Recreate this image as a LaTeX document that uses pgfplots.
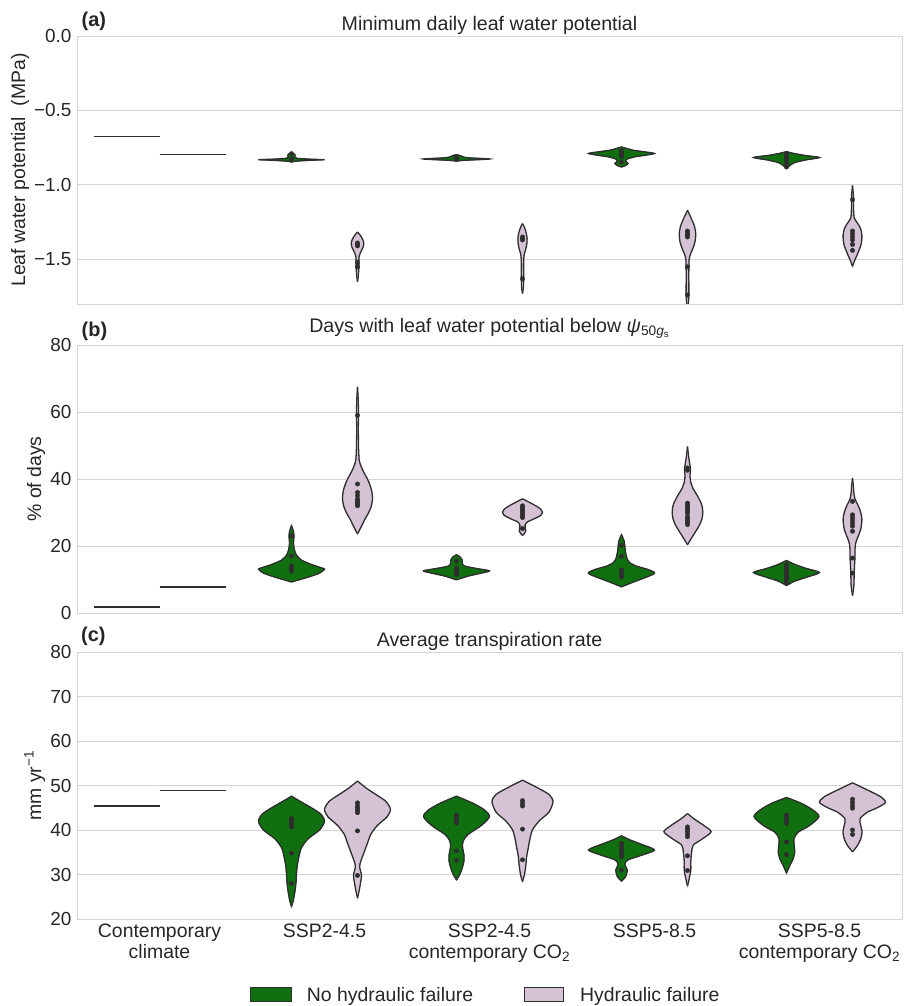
\documentclass[border=0pt]{standalone}
\usepackage{pgfplots}
\usepackage{pgfplotstable}
\pgfplotsset{compat=1.18}
\usepackage{fontspec}
\setmainfont{Liberation Sans}
\definecolor{vgreen}{HTML}{107010}
\definecolor{vpink}{HTML}{D5C2D5}
\definecolor{vedge}{HTML}{2E2E2E}
\definecolor{txt}{HTML}{262626}
\definecolor{gridc}{HTML}{D4D4D4}
\newcommand{\tf}{\fontsize{19.5}{20.6}\selectfont}
\newcommand{\tkf}{\fontsize{19}{20}\selectfont}

% ---------- panel (a): minimum daily leaf water potential ----------
\pgfplotstableread[row sep=\\]{y w\\ -0.845 0\\ -0.840 0.04\\ -0.835 0.11\\ -0.831 0.20\\ -0.827 0.11\\ -0.822 0.035\\ -0.814 0.02\\ -0.803 0.022\\ -0.795 0.02\\ -0.789 0.01\\ -0.786 0\\}\aGone
\pgfplotstableread[row sep=\\]{y w\\ -1.650 0\\ -1.620 0.004\\ -1.580 0.007\\ -1.550 0.009\\ -1.520 0.008\\ -1.480 0.010\\ -1.450 0.020\\ -1.420 0.033\\ -1.395 0.038\\ -1.370 0.033\\ -1.340 0.018\\ -1.317 0\\}\aPone
\pgfplotstableread[row sep=\\]{y w\\ -0.840 0\\ -0.835 0.05\\ -0.830 0.15\\ -0.826 0.20\\ -0.822 0.14\\ -0.817 0.06\\ -0.810 0.035\\ -0.803 0.022\\ -0.797 0\\}\aGtwo
\pgfplotstableread[row sep=\\]{y w\\ -1.730 0\\ -1.680 0.006\\ -1.600 0.007\\ -1.520 0.007\\ -1.470 0.010\\ -1.430 0.020\\ -1.390 0.027\\ -1.360 0.028\\ -1.320 0.022\\ -1.280 0.010\\ -1.260 0\\}\aPtwo
\pgfplotstableread[row sep=\\]{y w\\ -0.880 0\\ -0.870 0.025\\ -0.856 0.040\\ -0.842 0.026\\ -0.826 0.035\\ -0.812 0.08\\ -0.800 0.15\\ -0.789 0.20\\ -0.778 0.14\\ -0.767 0.07\\ -0.755 0.03\\ -0.745 0\\}\aGthree
\pgfplotstableread[row sep=\\]{y w\\ -1.850 0\\ -1.750 0.008\\ -1.600 0.008\\ -1.500 0.010\\ -1.460 0.020\\ -1.420 0.035\\ -1.380 0.046\\ -1.330 0.050\\ -1.280 0.043\\ -1.230 0.025\\ -1.190 0.008\\ -1.171 0\\}\aPthree
\pgfplotstableread[row sep=\\]{y w\\ -0.890 0\\ -0.870 0.02\\ -0.850 0.05\\ -0.832 0.12\\ -0.816 0.20\\ -0.802 0.11\\ -0.788 0.04\\ -0.776 0\\}\aGfour
\pgfplotstableread[row sep=\\]{y w\\ -1.548 0\\ -1.510 0.012\\ -1.460 0.032\\ -1.400 0.052\\ -1.340 0.057\\ -1.290 0.048\\ -1.250 0.026\\ -1.220 0.010\\ -1.150 0.006\\ -1.080 0.006\\ -1.003 0\\}\aPfour

% ---------- panel (b): days below psi50 ----------
\pgfplotstableread[row sep=\\]{y w\\ 9.25 0\\ 10.7 0.10\\ 11.9 0.17\\ 13.1 0.20\\ 13.5 0.18\\ 14.5 0.12\\ 15.8 0.06\\ 17.3 0.03\\ 18.8 0.018\\ 20.8 0.012\\ 22.8 0.015\\ 24.3 0.012\\ 26.1 0\\}\bGone
\pgfplotstableread[row sep=\\]{y w\\ 23.6 0\\ 25.0 0.015\\ 26.5 0.03\\ 28.0 0.045\\ 30.0 0.068\\ 32.0 0.084\\ 34.3 0.091\\ 36.5 0.086\\ 38.8 0.071\\ 40.5 0.055\\ 42.0 0.038\\ 44.0 0.02\\ 45.8 0.01\\ 50.0 0.006\\ 55.0 0.005\\ 60.0 0.006\\ 64.0 0.004\\ 67.5 0\\}\bPone
\pgfplotstableread[row sep=\\]{y w\\ 9.9 0\\ 11.0 0.07\\ 12.0 0.16\\ 12.6 0.20\\ 13.3 0.12\\ 14.0 0.05\\ 14.8 0.035\\ 15.8 0.035\\ 16.8 0.02\\ 17.4 0\\}\bGtwo
\pgfplotstableread[row sep=\\]{y w\\ 23.1 0\\ 23.8 0.012\\ 24.5 0.02\\ 25.3 0.016\\ 26.3 0.016\\ 27.2 0.03\\ 28.2 0.075\\ 29.2 0.112\\ 30.0 0.121\\ 31.0 0.11\\ 32.0 0.08\\ 33.2 0.035\\ 34.1 0\\}\bPtwo
\pgfplotstableread[row sep=\\]{y w\\ 7.8 0\\ 9.0 0.06\\ 10.5 0.14\\ 11.5 0.19\\ 12.1 0.20\\ 13.0 0.16\\ 14.0 0.09\\ 15.0 0.05\\ 16.0 0.035\\ 18.0 0.025\\ 20.0 0.02\\ 21.5 0.016\\ 23.4 0\\}\bGthree
\pgfplotstableread[row sep=\\]{y w\\ 20.4 0\\ 22.0 0.02\\ 24.0 0.045\\ 26.0 0.07\\ 28.0 0.087\\ 30.3 0.093\\ 32.5 0.085\\ 35.0 0.06\\ 37.0 0.035\\ 39.0 0.02\\ 41.0 0.015\\ 43.0 0.018\\ 45.0 0.012\\ 47.0 0.006\\ 49.7 0\\}\bPthree
\pgfplotstableread[row sep=\\]{y w\\ 8.2 0\\ 9.5 0.05\\ 10.8 0.13\\ 12.1 0.20\\ 13.3 0.12\\ 14.5 0.05\\ 15.7 0\\}\bGfour
\pgfplotstableread[row sep=\\]{y w\\ 5.2 0\\ 8.0 0.008\\ 11.0 0.01\\ 14.0 0.012\\ 16.5 0.015\\ 19.0 0.015\\ 21.0 0.02\\ 23.0 0.035\\ 25.0 0.05\\ 27.9 0.057\\ 30.0 0.05\\ 32.0 0.035\\ 34.0 0.015\\ 36.0 0.008\\ 38.0 0.005\\ 40.3 0\\}\bPfour

% ---------- panel (c): average transpiration rate ----------
\pgfplotstableread[row sep=\\]{y w\\ 22.8 0\\ 24.0 0.01\\ 26.0 0.02\\ 28.0 0.027\\ 30.0 0.03\\ 32.0 0.035\\ 34.0 0.045\\ 36.0 0.06\\ 38.0 0.10\\ 40.0 0.17\\ 41.9 0.20\\ 43.5 0.18\\ 45.0 0.12\\ 46.5 0.05\\ 47.6 0\\}\cGone
\pgfplotstableread[row sep=\\]{y w\\ 24.7 0\\ 26.0 0.008\\ 28.0 0.018\\ 29.8 0.024\\ 31.7 0.013\\ 33.0 0.02\\ 35.0 0.04\\ 37.0 0.06\\ 39.0 0.08\\ 41.0 0.12\\ 43.0 0.18\\ 44.7 0.20\\ 46.5 0.17\\ 48.0 0.11\\ 49.5 0.05\\ 51.0 0\\}\cPone
\pgfplotstableread[row sep=\\]{y w\\ 28.8 0\\ 30.0 0.02\\ 31.5 0.035\\ 33.0 0.045\\ 34.5 0.045\\ 36.0 0.037\\ 37.5 0.04\\ 39.0 0.07\\ 41.0 0.15\\ 43.0 0.20\\ 44.5 0.17\\ 46.0 0.10\\ 47.6 0\\}\cGtwo
\pgfplotstableread[row sep=\\]{y w\\ 28.4 0\\ 30.0 0.012\\ 32.0 0.02\\ 34.0 0.025\\ 36.0 0.035\\ 38.0 0.045\\ 40.0 0.06\\ 42.0 0.10\\ 44.0 0.16\\ 46.4 0.185\\ 48.0 0.16\\ 49.5 0.09\\ 51.2 0\\}\cPtwo
\pgfplotstableread[row sep=\\]{y w\\ 28.5 0\\ 29.5 0.025\\ 31.0 0.035\\ 32.3 0.02\\ 33.3 0.04\\ 34.3 0.12\\ 35.5 0.20\\ 36.8 0.12\\ 37.8 0.05\\ 38.7 0\\}\cGthree
\pgfplotstableread[row sep=\\]{y w\\ 27.4 0\\ 29.0 0.01\\ 31.0 0.02\\ 33.0 0.02\\ 35.0 0.025\\ 36.6 0.035\\ 38.0 0.09\\ 39.6 0.143\\ 41.0 0.10\\ 42.5 0.04\\ 43.7 0\\}\cPthree
\pgfplotstableread[row sep=\\]{y w\\ 30.3 0\\ 32.0 0.02\\ 33.5 0.04\\ 35.0 0.05\\ 36.5 0.047\\ 38.0 0.045\\ 39.5 0.07\\ 41.0 0.14\\ 43.0 0.197\\ 44.5 0.16\\ 46.0 0.09\\ 47.3 0\\}\cGfour
\pgfplotstableread[row sep=\\]{y w\\ 35.1 0\\ 36.5 0.03\\ 38.0 0.05\\ 39.6 0.058\\ 41.0 0.05\\ 42.5 0.045\\ 44.0 0.09\\ 45.0 0.15\\ 46.2 0.20\\ 47.5 0.17\\ 49.0 0.09\\ 50.6 0\\}\cPfour

% violin: #1 centre, #2 fill colour, #3 table (y, half width); two filled halves + outline
\newcommand{\violin}[3]{%
  \addplot[fill=#2, draw=#2, line width=0.6bp, smooth, tension=0.45, forget plot] table[x expr=#1+\thisrow{w}, y=y]{#3} -- cycle;
  \addplot[fill=#2, draw=#2, line width=0.6bp, smooth, tension=0.45, forget plot] table[x expr=#1-\thisrow{w}, y=y]{#3} -- cycle;
  \addplot[vedge, line width=1.3bp, smooth, tension=0.45, forget plot] table[x expr=#1+\thisrow{w}, y=y]{#3};
  \addplot[vedge, line width=1.3bp, smooth, tension=0.45, forget plot] table[x expr=#1-\thisrow{w}, y=y]{#3};
}

\pgfplotsset{
  vstyle/.style={
    scale only axis, width=825bp, anchor=south west,
    xmin=-0.5, xmax=4.5, xtick=\empty,
    axis line style={gridc, line width=0.9bp},
    ymajorgrids, grid style={gridc, line width=0.9bp},
    major tick length=0pt,
    yticklabel style={font=\tkf, text=txt, inner sep=0pt, xshift=-5.3bp},
  },
  cline/.style={vedge, line width=1.3bp, forget plot},
  dots/.style={only marks, mark=*, mark size=2.2bp, color=vedge, forget plot},
}

\begin{document}
\begin{tikzpicture}

% ================= (a) =================
\begin{axis}[vstyle, at={(77bp,702bp)}, height=268bp,
  ymin=-1.8, ymax=0, ytick={-1.5,-1,-0.5,0}, yticklabels={−1.5,−1.0,−0.5,0.0}]
\addplot[cline] coordinates {(-0.4,-0.675) (0,-0.675)};
\addplot[cline] coordinates {(0,-0.795) (0.4,-0.795)};
\violin{0.8}{vgreen}{\aGone}
\violin{1.2}{vpink}{\aPone}
\violin{1.8}{vgreen}{\aGtwo}
\violin{2.2}{vpink}{\aPtwo}
\violin{2.8}{vgreen}{\aGthree}
\violin{3.2}{vpink}{\aPthree}
\violin{3.8}{vgreen}{\aGfour}
\violin{4.2}{vpink}{\aPfour}
\addplot[dots] coordinates {
 (0.8,-0.79) (0.8,-0.825) (0.8,-0.83) (0.8,-0.835)
 (1.2,-1.39) (1.2,-1.40) (1.2,-1.41) (1.2,-1.52) (1.2,-1.55)
 (1.8,-0.81) (1.8,-0.82) (1.8,-0.83)
 (2.2,-1.35) (2.2,-1.36) (2.2,-1.37) (2.2,-1.63)
 (2.8,-0.77) (2.8,-0.78) (2.8,-0.79) (2.8,-0.80) (2.8,-0.81) (2.8,-0.846)
 (3.2,-1.31) (3.2,-1.32) (3.2,-1.33) (3.2,-1.34) (3.2,-1.35) (3.2,-1.55) (3.2,-1.74)
 (3.8,-0.79) (3.8,-0.80) (3.8,-0.81) (3.8,-0.82) (3.8,-0.84) (3.8,-0.86) (3.8,-0.88)
 (4.2,-1.10) (4.2,-1.31) (4.2,-1.33) (4.2,-1.35) (4.2,-1.37) (4.2,-1.40) (4.2,-1.44)};
\end{axis}

% ================= (b) =================
\begin{axis}[vstyle, at={(77bp,393bp)}, height=268bp,
  ymin=0, ymax=80, ytick={0,20,40,60,80}, yticklabels={0,20,40,60,80}]
\addplot[cline] coordinates {(-0.4,1.8) (0,1.8)};
\addplot[cline] coordinates {(0,7.8) (0.4,7.8)};
\violin{0.8}{vgreen}{\bGone}
\violin{1.2}{vpink}{\bPone}
\violin{1.8}{vgreen}{\bGtwo}
\violin{2.2}{vpink}{\bPtwo}
\violin{2.8}{vgreen}{\bGthree}
\violin{3.2}{vpink}{\bPthree}
\violin{3.8}{vgreen}{\bGfour}
\violin{4.2}{vpink}{\bPfour}
\addplot[dots] coordinates {
 (0.8,12.5) (0.8,13) (0.8,13.5) (0.8,14) (0.8,17) (0.8,23)
 (1.2,32) (1.2,32.5) (1.2,33) (1.2,33.5) (1.2,34) (1.2,35) (1.2,36) (1.2,38.5) (1.2,59)
 (1.8,11.5) (1.8,12) (1.8,12.5) (1.8,13) (1.8,13.5) (1.8,15.5)
 (2.2,28.5) (2.2,29) (2.2,29.5) (2.2,30) (2.2,30.5) (2.2,31) (2.2,31.5) (2.2,32) (2.2,25.2)
 (2.8,10.7) (2.8,11.2) (2.8,11.7) (2.8,12.2) (2.8,12.9) (2.8,16.9) (2.8,20.2)
 (3.2,26.4) (3.2,27) (3.2,27.6) (3.2,28.2) (3.2,28.8) (3.2,29.8) (3.2,30.4) (3.2,31) (3.2,31.6) (3.2,32.2) (3.2,32.8) (3.2,42.6) (3.2,43.3)
 (3.8,9) (3.8,9.6) (3.8,10.2) (3.8,10.8) (3.8,11.4) (3.8,12) (3.8,12.6) (3.8,13.2) (3.8,13.8) (3.8,14.4)
 (4.2,33.3) (4.2,29.3) (4.2,28.5) (4.2,27.7) (4.2,26.8) (4.2,25.9) (4.2,24.4) (4.2,16.4) (4.2,11.9)};
\end{axis}

% ================= (c) =================
\begin{axis}[vstyle, at={(77bp,87bp)}, height=267bp,
  ymin=20, ymax=80, ytick={20,30,...,80}, yticklabels={20,30,40,50,60,70,80},
  xtick={0,1,2,3,4},
  xticklabels={{Contemporary\\climate}, {SSP2-4.5}, {SSP2-4.5\\contemporary CO\textsubscript{2}}, {SSP5-8.5}, {SSP5-8.5\\contemporary CO\textsubscript{2}}},
  xticklabel style={font=\tf, text=txt, align=center, inner sep=0pt, yshift=-5bp}]
\addplot[cline] coordinates {(-0.4,45.4) (0,45.4)};
\addplot[cline] coordinates {(0,48.9) (0.4,48.9)};
\violin{0.8}{vgreen}{\cGone}
\violin{1.2}{vpink}{\cPone}
\violin{1.8}{vgreen}{\cGtwo}
\violin{2.2}{vpink}{\cPtwo}
\violin{2.8}{vgreen}{\cGthree}
\violin{3.2}{vpink}{\cPthree}
\violin{3.8}{vgreen}{\cGfour}
\violin{4.2}{vpink}{\cPfour}
\addplot[dots] coordinates {
 (0.8,40.7) (0.8,41.2) (0.8,41.7) (0.8,42.2) (0.8,42.6) (0.8,34.8) (0.8,28.0)
 (1.2,43.9) (1.2,44.4) (1.2,44.9) (1.2,45.4) (1.2,46.1) (1.2,39.8) (1.2,29.8)
 (1.8,41.6) (1.8,42.2) (1.8,42.8) (1.8,43.4) (1.8,35.3) (1.8,33.2)
 (2.2,45.4) (2.2,46) (2.2,46.6) (2.2,40.2) (2.2,33.3)
 (2.8,34) (2.8,34.6) (2.8,35.2) (2.8,35.8) (2.8,36.4) (2.8,37) (2.8,31)
 (3.2,38.5) (3.2,39.1) (3.2,39.7) (3.2,40.2) (3.2,40.7) (3.2,34.2) (3.2,30.9)
 (3.8,41.5) (3.8,42.1) (3.8,42.7) (3.8,43.4) (3.8,37.3) (3.8,34.5)
 (4.2,44.9) (4.2,45.5) (4.2,46.2) (4.2,46.9) (4.2,40) (4.2,39)};
\end{axis}

% ---------- titles, panel letters, axis labels ----------
\begin{scope}[every node/.style={inner sep=0pt, text=txt}]
\node[anchor=base, font=\fontsize{19.7}{21}\selectfont] at (489.5bp,975.3bp) {Minimum daily leaf water potential};
\node[anchor=base, font=\fontsize{19.7}{21}\selectfont] at (489.5bp,673.3bp) {Days with leaf water potential below \textit{ψ}\textsubscript{50\textit{g}\textsubscript{s}}};
\node[anchor=base, font=\fontsize{19.7}{21}\selectfont] at (489.5bp,359.3bp) {Average transpiration rate};
\node[anchor=base west, font=\fontsize{20}{21}\selectfont\bfseries] at (81.5bp,979.5bp) {(a)};
\node[anchor=base west, font=\fontsize{20}{21}\selectfont\bfseries] at (81.5bp,669.5bp) {(b)};
\node[anchor=base west, font=\fontsize{20}{21}\selectfont\bfseries] at (81bp,364.2bp) {(c)};
\node[rotate=90, anchor=base, font=\tf] at (25bp,836bp) {Leaf water potential\ \ (MPa)};
\node[rotate=90, anchor=base, font=\tf] at (41bp,527bp) {\% of days};
\node[rotate=90, anchor=base, font=\tf] at (41bp,220.5bp) {mm yr\textsuperscript{−1}};
% legend
\draw[vedge, fill=vgreen, line width=0.9bp] (250.7bp,5bp) rectangle (291bp,19bp);
\node[anchor=base west, font=\tf] at (306.7bp,5bp) {No hydraulic failure};
\draw[vedge, fill=vpink, line width=0.9bp] (524bp,5bp) rectangle (563.3bp,19bp);
\node[anchor=base west, font=\tf] at (580bp,5bp) {Hydraulic failure};
\end{scope}

\pgfresetboundingbox
\path[use as bounding box] (0,0) rectangle (906bp,1006bp);
\end{tikzpicture}
\end{document}
